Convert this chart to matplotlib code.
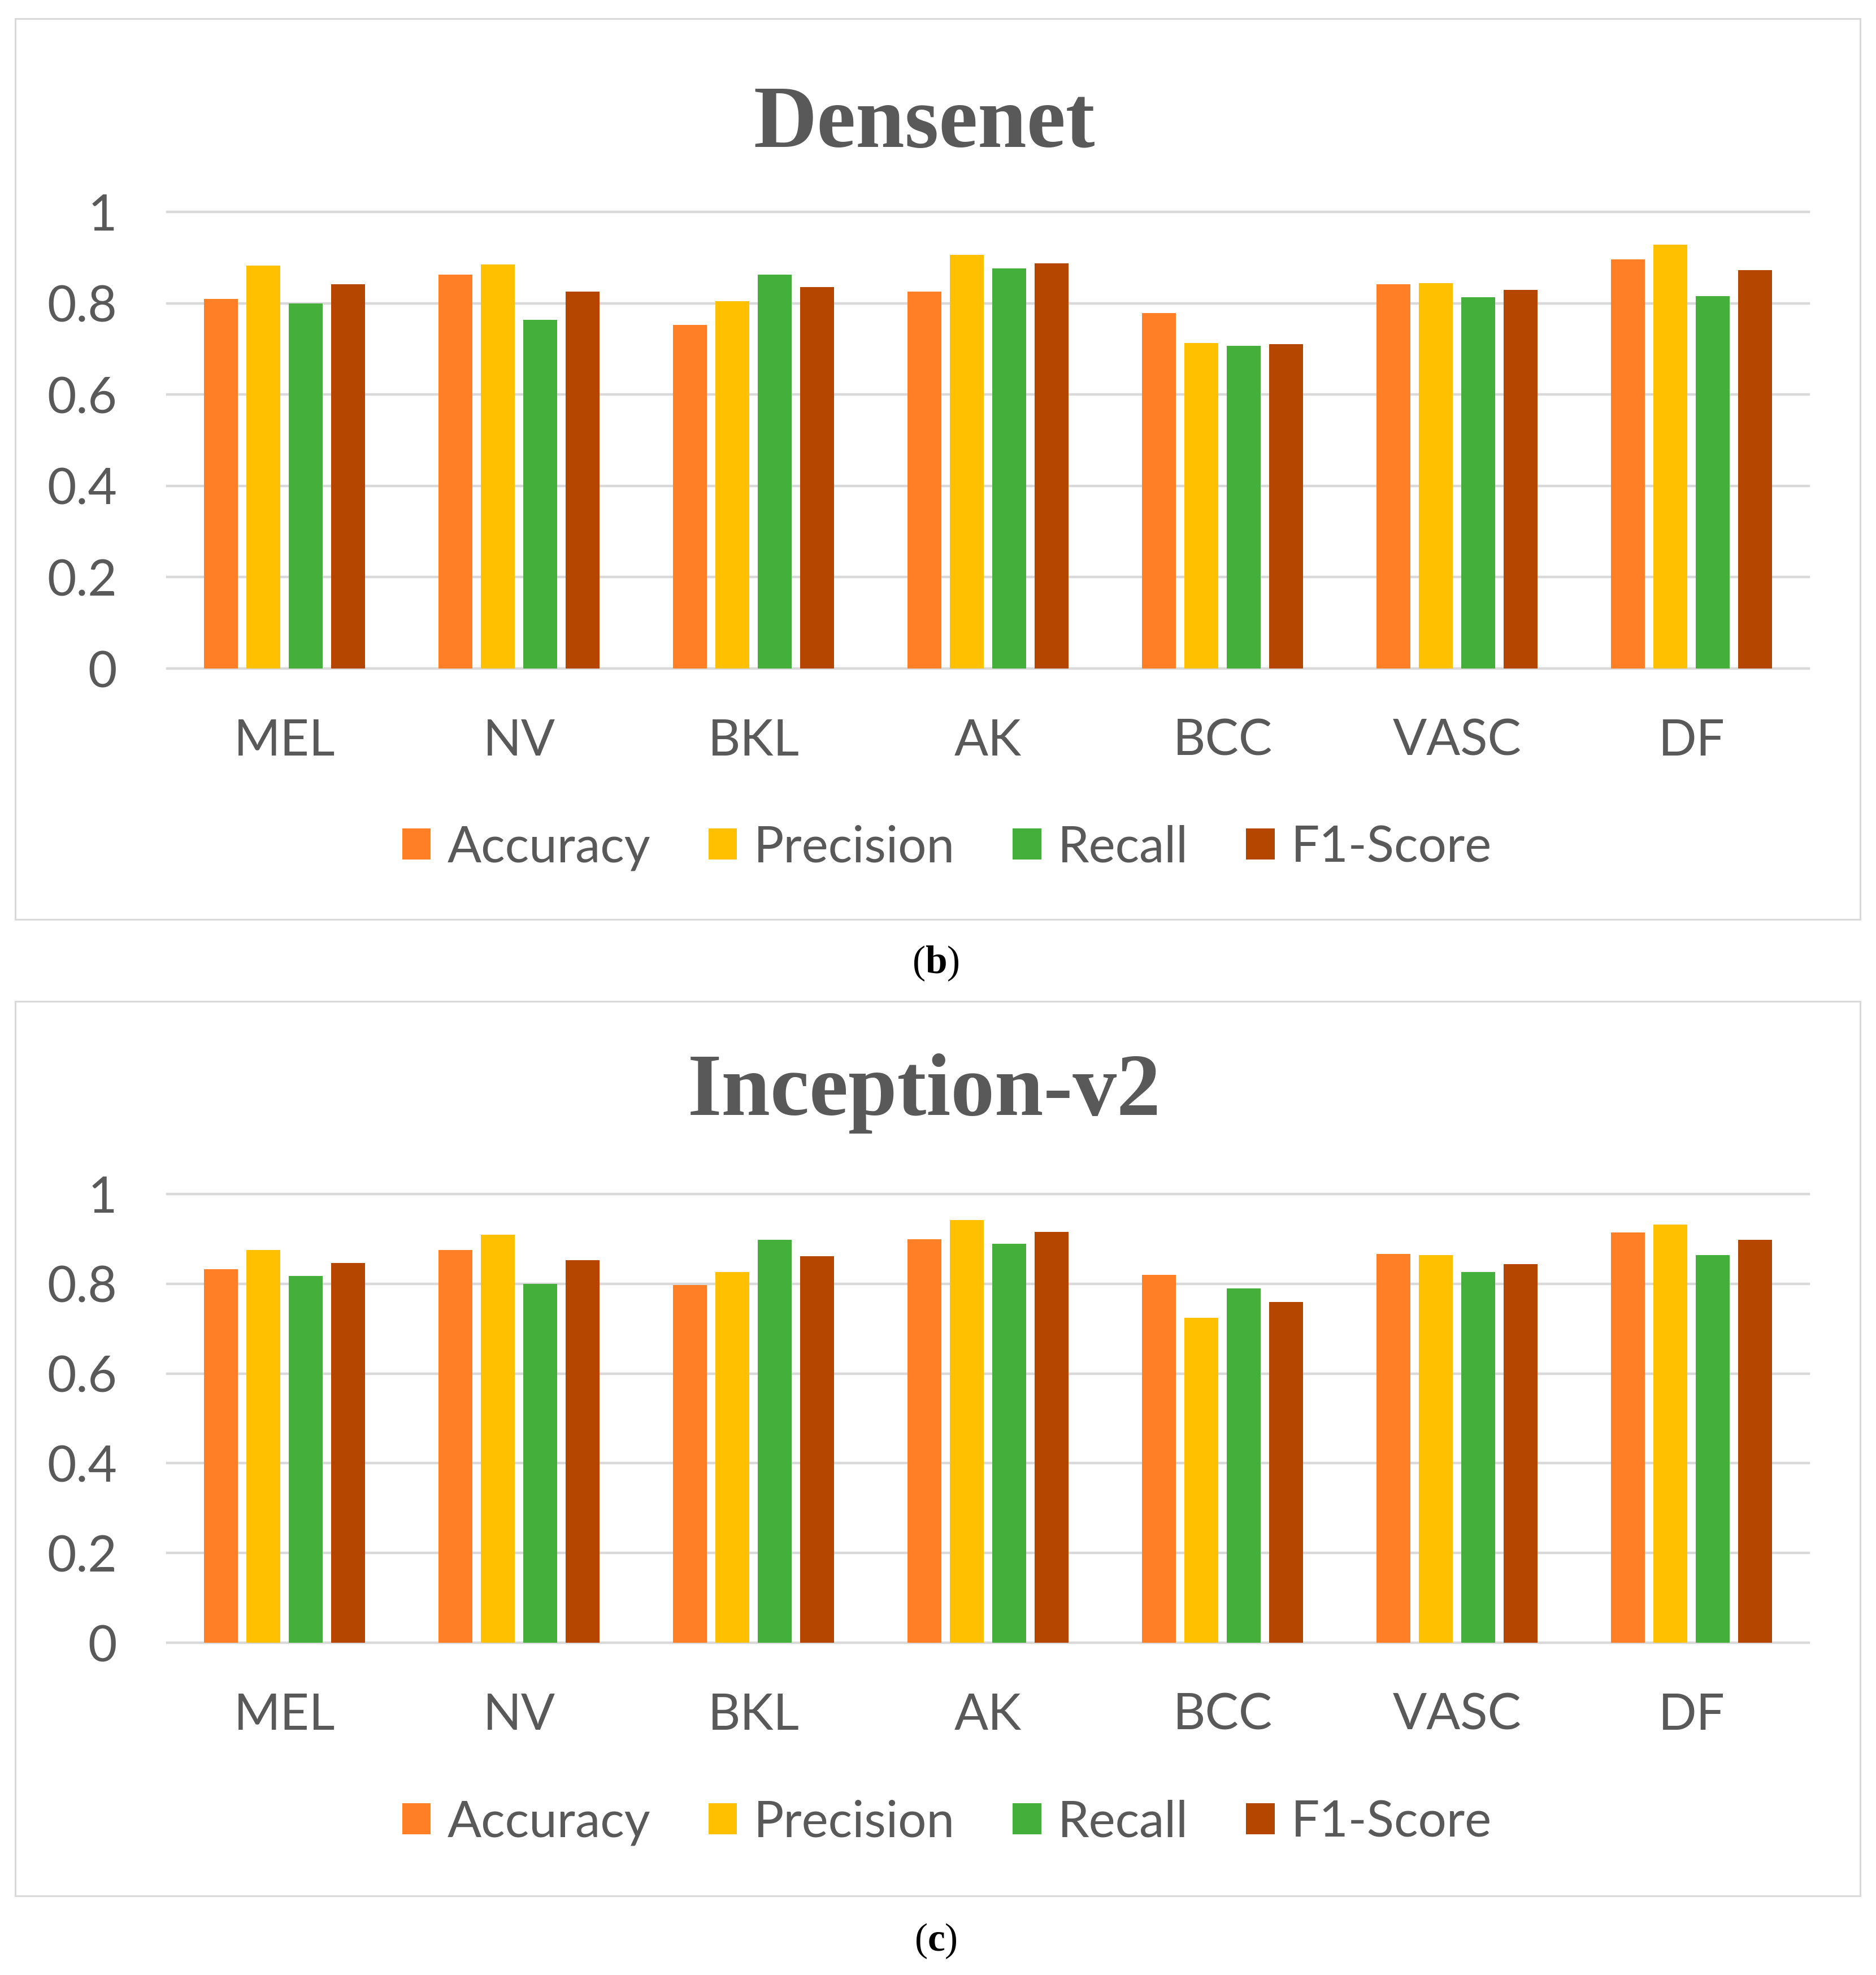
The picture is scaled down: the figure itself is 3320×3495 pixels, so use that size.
import numpy as np
import matplotlib
matplotlib.use("Agg")
import matplotlib.pyplot as plt
from matplotlib.patches import Rectangle, Patch

plt.rcParams['mathtext.fontset'] = 'custom'
plt.rcParams['mathtext.rm'] = 'Liberation Serif'
plt.rcParams['mathtext.bf'] = 'Liberation Serif:bold'

classes = ['MEL', 'NV', 'BKL', 'AK', 'BCC', 'VASC', 'DF']
metrics = ['Accuracy', 'Precision', 'Recall', 'F1-Score']
colors = ['#FF7F27', '#FFC000', '#44AF3B', '#B54600']

# Densenet
dn_acc = [0.809, 0.863, 0.752, 0.826, 0.778, 0.842, 0.896]
dn_prec = [0.883, 0.885, 0.805, 0.906, 0.713, 0.844, 0.928]
dn_rec = [0.800, 0.763, 0.863, 0.876, 0.707, 0.813, 0.815]
dn_f1 = [0.842, 0.825, 0.835, 0.887, 0.711, 0.829, 0.872]

# Inception-v2
inc_acc = [0.833, 0.875, 0.797, 0.899, 0.820, 0.867, 0.914]
inc_prec = [0.875, 0.909, 0.826, 0.942, 0.724, 0.864, 0.932]
inc_rec = [0.817, 0.800, 0.898, 0.889, 0.790, 0.826, 0.864]
inc_f1 = [0.846, 0.853, 0.862, 0.916, 0.759, 0.844, 0.898]

yticks = [0, 0.2, 0.4, 0.6, 0.8, 1]
ytick_labels = ['0', '0.2', '0.4', '0.6', '0.8', '1']

W, H = 3320, 3495
fig = plt.figure(figsize=(W / 100, H / 100), dpi=100)
grey = '#595959'
gridc = '#D9D9D9'
fs = 64


def fx(px):
    return px / W


def fy(py):
    return 1 - py / H


def panel(top_px, bot_px, title, title_base, ax_top, ax_bot, leg_y, cap, cap_y, series):
    # outer frame
    fig.patches.append(Rectangle((fx(27), fy(bot_px)), fx(3292) - fx(27), fy(top_px) - fy(bot_px),
                                 transform=fig.transFigure, fill=False, edgecolor=gridc, lw=2.2))
    fig.text(fx(1636), fy(title_base), title, ha='center', va='baseline', fontsize=112,
             fontweight='bold', family='Liberation Serif', color=grey)

    ax = fig.add_axes([fx(296), fy(ax_bot), fx(3201) - fx(296), fy(ax_top) - fy(ax_bot)])
    x = np.arange(len(classes))
    step = 0.181
    bw = 0.145
    for i, vals in enumerate(series):
        ax.bar(x + (i - 1.5) * step, vals, width=bw, color=colors[i], label=metrics[i], zorder=3)
    for t in yticks:
        ax.axhline(t, color=gridc, lw=3.2, zorder=1, clip_on=False)
    ax.set_xlim(-0.5, len(classes) - 0.5)
    ax.set_ylim(0, 1)
    ax.set_yticks(yticks)
    ax.set_yticklabels(ytick_labels)
    ax.set_xticks(x)
    ax.set_xticklabels(classes)
    ax.tick_params(axis='y', length=0, pad=64, labelsize=fs, labelcolor=grey)
    ax.tick_params(axis='x', length=0, pad=63, labelsize=fs, labelcolor=grey)
    for lab in ax.get_xticklabels() + ax.get_yticklabels():
        lab.set_family('Lato')
    for s in ax.spines.values():
        s.set_visible(False)

    handles = [Patch(facecolor=c, edgecolor='none') for c in colors]
    fig.legend(handles, metrics, loc='center', bbox_to_anchor=(fx(1676), fy(leg_y)), ncol=4,
               frameon=False, prop={'family': 'Lato', 'size': fs}, labelcolor=grey,
               handlelength=0.57, handleheight=0.57, handletextpad=0.33, columnspacing=1.15)

    fig.text(fx(1656), fy(cap_y), r'($\mathbf{' + cap + '}$)', ha='center', va='center',
             fontsize=50, family='Liberation Serif', color='black')
    return ax


panel(33, 1627, 'Densenet', 260, 375, 1183, 1500, 'b', 1705,
      [dn_acc, dn_prec, dn_rec, dn_f1])
panel(1772, 3355, 'Inception-v2', 1973, 2113, 2907, 3225, 'c', 3435,
      [inc_acc, inc_prec, inc_rec, inc_f1])

fig.savefig('out.png', dpi=100, facecolor='white')
